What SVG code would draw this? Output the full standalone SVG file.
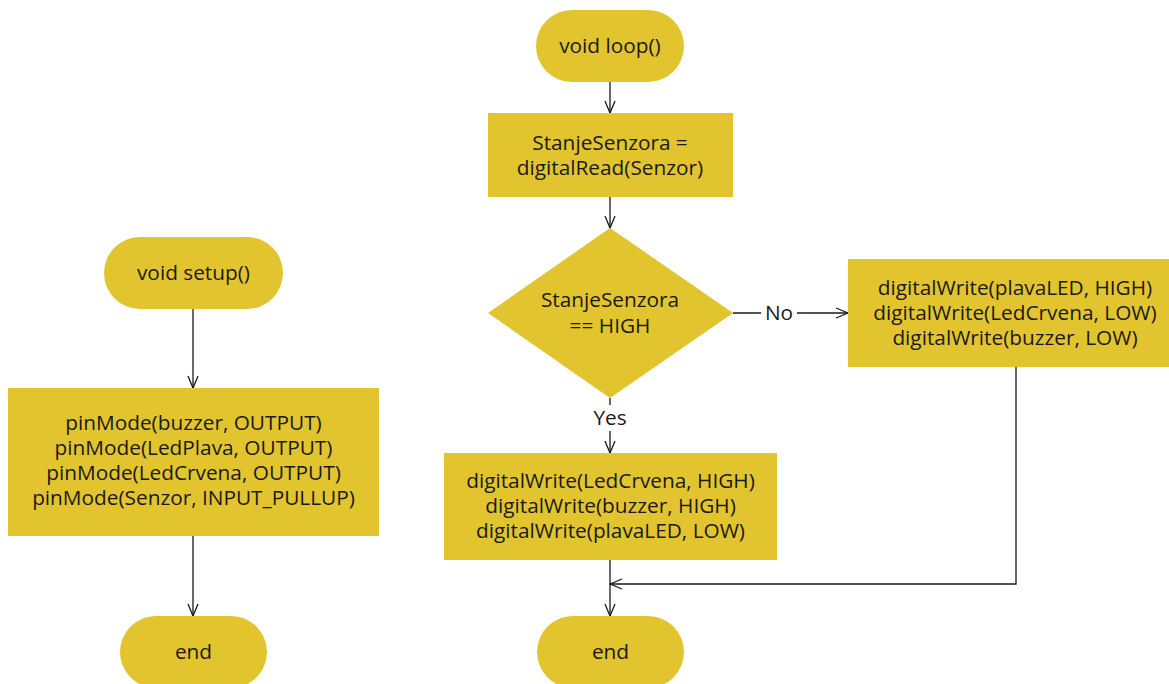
<svg xmlns="http://www.w3.org/2000/svg" width="1169" height="684" viewBox="0 0 1169 684">
<defs>
<style>
.n{fill:#E2C42E;}
.t{font-family:"Open Sans","Noto Sans",sans-serif;font-size:20.8px;fill:#1a1a1a;text-anchor:middle;}
.c{fill:none;stroke:#1a1a1a;stroke-width:1.3;}
.lbl{fill:#ffffff;}
</style>
<marker id="ah" viewBox="0 0 14 12" refX="13" refY="6" markerWidth="14" markerHeight="12" markerUnits="userSpaceOnUse" orient="auto">
<path d="M1,1 L13,6 L1,11" fill="none" stroke="#1a1a1a" stroke-width="1.3"/>
</marker>
</defs>
<rect width="1169" height="684" fill="#ffffff"/>
<g id="connectors">
<path class="c" d="M193,309 V388" marker-end="url(#ah)"/>
<path class="c" d="M193,536 V616" marker-end="url(#ah)"/>
<path class="c" d="M610,82 V113" marker-end="url(#ah)"/>
<path class="c" d="M610,197 V228" marker-end="url(#ah)"/>
<path class="c" d="M733,313 H848" marker-end="url(#ah)"/>
<path class="c" d="M610,398 V453" marker-end="url(#ah)"/>
<path class="c" d="M610,560 V616" marker-end="url(#ah)"/>
<path class="c" d="M1016,367 V584 H610" marker-end="url(#ah)"/>
<rect class="lbl" x="761" y="300" width="36" height="26"/>
<text class="t" x="779" y="320">No</text>
<rect class="lbl" x="590" y="405" width="40" height="26"/>
<text class="t" x="610" y="425">Yes</text>
</g>
<g id="setup">
<rect class="n" x="104" y="237" width="179" height="72" rx="36"/>
<text class="t" x="193.5" y="280">void setup()</text>
</g>
<g id="pinmode">
<rect class="n" x="8" y="388" width="371" height="148"/>
<text class="t" x="193.5" y="430">pinMode(buzzer, OUTPUT)</text>
<text class="t" x="193.5" y="455">pinMode(LedPlava, OUTPUT)</text>
<text class="t" x="193.5" y="480">pinMode(LedCrvena, OUTPUT)</text>
<text class="t" x="193.5" y="505">pinMode(Senzor, INPUT_PULLUP)</text>
</g>
<g id="end1">
<rect class="n" x="120" y="616" width="147" height="72" rx="36"/>
<text class="t" x="193.5" y="659">end</text>
</g>
<g id="loop">
<rect class="n" x="536" y="10" width="148" height="72" rx="36"/>
<text class="t" x="610" y="53">void loop()</text>
</g>
<g id="read">
<rect class="n" x="488" y="113" width="245" height="84"/>
<text class="t" x="610" y="150">StanjeSenzora =</text>
<text class="t" x="610" y="175">digitalRead(Senzor)</text>
</g>
<g id="decision">
<polygon class="n" points="610,228 733,313 610,398 488,313"/>
<text class="t" x="610" y="307">StanjeSenzora</text>
<text class="t" x="610" y="333">== HIGH</text>
</g>
<g id="noBox">
<rect class="n" x="848" y="259" width="334" height="108"/>
<text class="t" x="1015" y="295">digitalWrite(plavaLED, HIGH)</text>
<text class="t" x="1015" y="320">digitalWrite(LedCrvena, LOW)</text>
<text class="t" x="1015" y="345">digitalWrite(buzzer, LOW)</text>
</g>
<g id="yesBox">
<rect class="n" x="444" y="453" width="333" height="107"/>
<text class="t" x="610.5" y="488">digitalWrite(LedCrvena, HIGH)</text>
<text class="t" x="610.5" y="513">digitalWrite(buzzer, HIGH)</text>
<text class="t" x="610.5" y="538">digitalWrite(plavaLED, LOW)</text>
</g>
<g id="end2">
<rect class="n" x="537" y="616" width="147" height="72" rx="36"/>
<text class="t" x="610.5" y="659">end</text>
</g>
</svg>
